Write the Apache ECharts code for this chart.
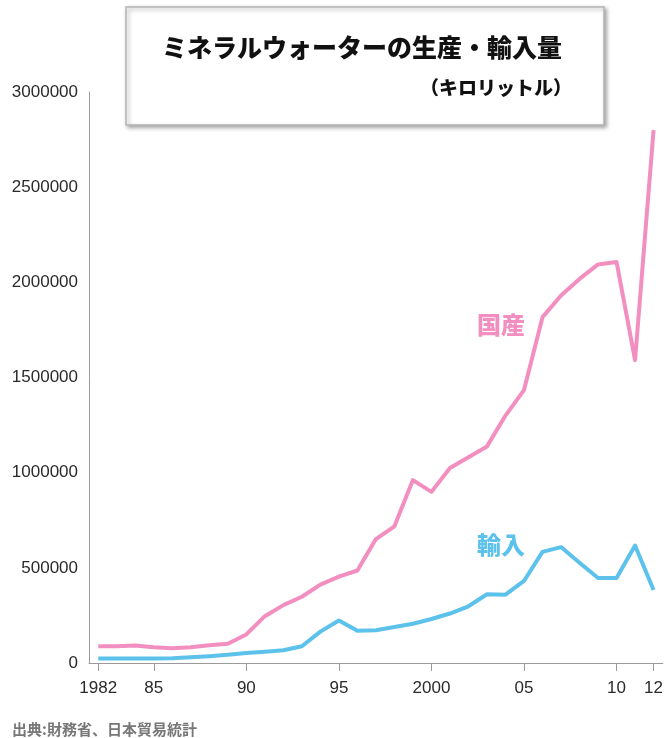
<!DOCTYPE html>
<html>
<head>
<meta charset="utf-8">
<script src="https://cdn.jsdelivr.net/npm/echarts@6/dist/echarts.min.js"></script>
<style>
  html, body { margin: 0; padding: 0; background: #fff; }
  #chart { width: 666px; height: 738px; }
</style>
</head>
<body>
<div id="chart"></div>
<script>
// Mineral water in Japan, kilolitres per year
const years = [1982, 1983, 1984, 1985, 1986, 1987, 1988, 1989, 1990, 1991,
               1992, 1993, 1994, 1995, 1996, 1997, 1998, 1999, 2000, 2001,
               2002, 2003, 2004, 2005, 2006, 2007, 2008, 2009, 2010, 2011, 2012];

// domestic production (国産)
const domestic = [88000, 88000, 92000, 83000, 78000, 83000, 93000, 101000, 150000, 246000,
                  304000, 348000, 412000, 454000, 486000, 651000, 718000, 961000, 899000, 1024000,
                  1081000, 1138000, 1300000, 1434000, 1817000, 1931000, 2018000, 2094000, 2107000, 1591000, 2800000];

// imports (輸入)
const imports = [23600, 24000, 24000, 24000, 25000, 30000, 36000, 43000, 52000, 59000,
                 67000, 88000, 165000, 223000, 169000, 172000, 189000, 206000, 231000, 260000,
                 298000, 361000, 359000, 431000, 584000, 609000, 527000, 447000, 447000, 617000, 384000];

// years that carry a tick and its short label
const tickYears = [1982, 1985, 1990, 1995, 2000, 2005, 2010, 2012];
const tickLabels = ['1982', '85', '90', '95', '2000', '05', '10', '12'];

const PINK = '#f28fc0';
const BLUE = '#5cc2ec';
const CJK = '"Noto Sans CJK JP", "Noto Sans", sans-serif';
const NUM = '"Liberation Sans", Arial, sans-serif';

const chart = echarts.init(document.getElementById('chart'), null, { renderer: 'canvas' });

const isTickYear = (idx) => tickYears.indexOf(years[idx]) !== -1;

chart.setOption({
  animation: false,
  backgroundColor: '#ffffff',
  grid: { left: 89, right: 2, top: 92, bottom: 75, containLabel: false },
  xAxis: {
    type: 'category',
    data: years.map(String),
    boundaryGap: true,
    axisLine: { show: true, lineStyle: { color: '#9a9a9a', width: 1 } },
    axisTick: {
      show: true,
      alignWithLabel: true,
      length: 8,
      interval: (idx) => isTickYear(idx),
      lineStyle: { color: '#9a9a9a' }
    },
    axisLabel: {
      interval: (idx) => isTickYear(idx),
      formatter: (val) => tickLabels[tickYears.indexOf(Number(val))],
      color: '#2a2a2a',
      fontFamily: NUM,
      fontSize: 17,
      margin: 17
    },
    splitLine: { show: false }
  },
  yAxis: {
    type: 'value',
    min: 0,
    max: 3000000,
    interval: 500000,
    axisLine: { show: true, lineStyle: { color: '#9a9a9a', width: 1 } },
    axisTick: { show: false },
    axisLabel: {
      formatter: (v) => String(v),
      color: '#2a2a2a',
      fontFamily: NUM,
      fontSize: 17,
      margin: 11
    },
    splitLine: { show: false }
  },
  series: [
    {
      name: '国産',
      type: 'line',
      data: domestic,
      symbol: 'none',
      lineStyle: { color: PINK, width: 4, join: 'round' },
      z: 3
    },
    {
      name: '輸入',
      type: 'line',
      data: imports,
      symbol: 'none',
      lineStyle: { color: BLUE, width: 4, join: 'round' },
      z: 4
    }
  ],
  graphic: [
    {
      type: 'rect',
      shape: { x: 126, y: 7, width: 478, height: 118 },
      style: {
        fill: '#ffffff',
        stroke: '#b4b4b4',
        lineWidth: 1.5,
        shadowBlur: 4,
        shadowOffsetX: 2,
        shadowOffsetY: 2,
        shadowColor: 'rgba(0,0,0,0.35)'
      },
      z: 10
    },
    {
      type: 'text',
      x: 362, y: 47,
      style: {
        text: 'ミネラルウォーターの生産・輸入量',
        fill: '#111',
        font: '900 25px ' + CJK,
        textAlign: 'center',
        textVerticalAlign: 'middle'
      },
      z: 11
    },
    {
      type: 'text',
      x: 572, y: 88,
      style: {
        text: '（キロリットル）',
        fill: '#111',
        font: '900 19px ' + CJK,
        textAlign: 'right',
        textVerticalAlign: 'middle'
      },
      z: 11
    },
    {
      type: 'text',
      x: 501, y: 325,
      style: {
        text: '国産',
        fill: PINK,
        font: '900 24px ' + CJK,
        textAlign: 'center',
        textVerticalAlign: 'middle'
      },
      z: 11
    },
    {
      type: 'text',
      x: 501, y: 545,
      style: {
        text: '輸入',
        fill: BLUE,
        font: '900 24px ' + CJK,
        textAlign: 'center',
        textVerticalAlign: 'middle'
      },
      z: 11
    },
    {
      type: 'text',
      x: 12, y: 729,
      style: {
        text: '出典:財務省、日本貿易統計',
        fill: '#777',
        font: 'bold 15px ' + CJK,
        textAlign: 'left',
        textVerticalAlign: 'middle'
      },
      z: 11
    }
  ]
});
</script>
</body>
</html>
